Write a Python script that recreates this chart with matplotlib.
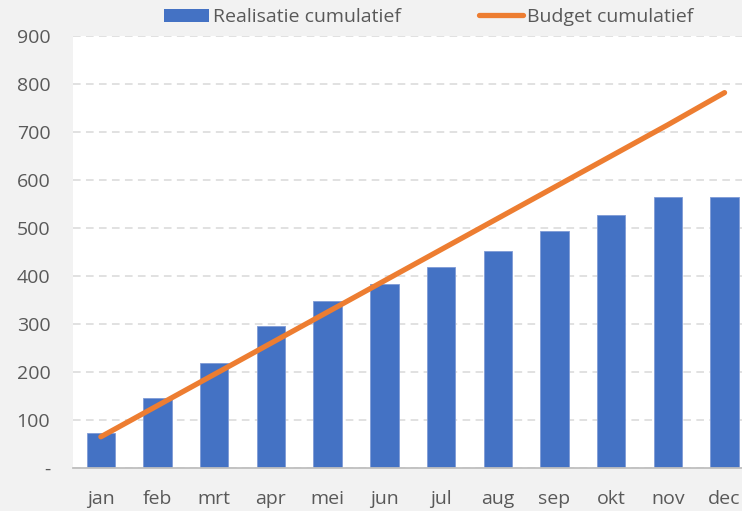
import matplotlib
matplotlib.use("Agg")
import matplotlib.pyplot as plt
from matplotlib.patches import Patch
from matplotlib.lines import Line2D

months = ["jan", "feb", "mrt", "apr", "mei", "jun", "jul", "aug", "sep", "okt", "nov", "dec"]
realisatie = [72, 146, 219, 295, 347, 383, 419, 453, 493, 528, 564, 564]
budget = [65, 130, 195, 260, 325, 390, 455, 520, 585, 650, 715, 782]
yticks = [0, 100, 200, 300, 400, 500, 600, 700, 800, 900]
ytick_labels = ["-", "100", "200", "300", "400", "500", "600", "700", "800", "900"]

BLUE = "#4472c4"
ORANGE = "#ed7d31"
GRAY_TXT = "#595959"
BG = "#f2f2f2"

plt.rcParams["font.family"] = ["Open Sans", "DejaVu Sans"]

fig = plt.figure(figsize=(7.42, 5.11), dpi=100, facecolor=BG)
# plot area runs past the right edge of the picture, like the reference
ax = fig.add_axes([72.5 / 742, 43 / 511, 680.4 / 742, 432 / 511])
ax.set_facecolor("white")

x = list(range(len(months)))
ax.bar(x, realisatie, width=0.5, color=BLUE, edgecolor="#7f9bd6", linewidth=0.6, zorder=2)
ax.plot(x, budget, color=ORANGE, linewidth=3.8, solid_capstyle="round", zorder=3)

ax.set_xlim(-0.5, len(months) - 0.5)
ax.set_ylim(0, 900)
ax.set_yticks(yticks)
ax.set_yticklabels(ytick_labels)
ax.set_xticks(x)
ax.set_xticklabels(months)

ax.grid(axis="y", color="#d9d9d9", linestyle=(0, (5, 3.5)), linewidth=1.1, zorder=0)
ax.set_axisbelow(True)
for side in ["top", "right", "left"]:
    ax.spines[side].set_visible(False)
ax.spines["bottom"].set_color("#bfbfbf")
ax.spines["bottom"].set_linewidth(1.3)
ax.spines["bottom"].set_zorder(4)

ax.tick_params(axis="both", length=0, labelsize=14, labelcolor=GRAY_TXT)
ax.tick_params(axis="x", pad=16)
ax.tick_params(axis="y", pad=16)

handles = [
    Patch(facecolor=BLUE, edgecolor="none"),
    Line2D([0], [0], color=ORANGE, linewidth=3.8, solid_capstyle="round"),
]
fig.legend(
    handles,
    ["Realisatie cumulatief", "Budget cumulatief"],
    loc="center",
    bbox_to_anchor=(429 / 742, 1 - 17 / 511),
    ncol=2,
    frameon=False,
    fontsize=14,
    labelcolor=GRAY_TXT,
    handlelength=2.3,
    handleheight=0.65,
    handletextpad=0.2,
    columnspacing=4.0,
    borderpad=0,
)

fig.savefig("out.png", dpi=100, facecolor=BG)
